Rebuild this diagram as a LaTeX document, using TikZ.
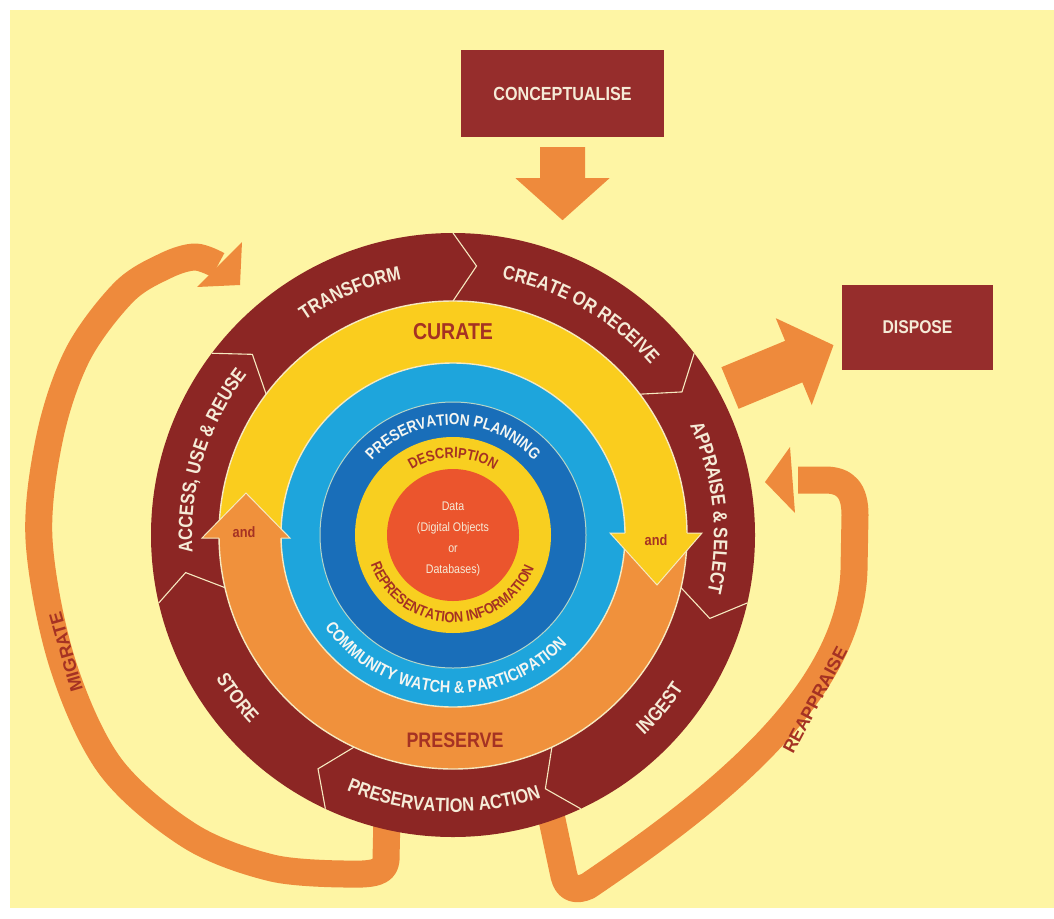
\documentclass[tikz,border=0pt]{standalone}
\usepackage{fontspec}
\usetikzlibrary{decorations.text}
\newfontfamily\labfont{Liberation Sans}[FakeStretch=0.85]
\newfontfamily\widefont{Liberation Sans}

\definecolor{bgyellow}{HTML}{FEF5A4}
\definecolor{maroon}{HTML}{8C2624}
\definecolor{boxred}{HTML}{962D2C}
\definecolor{arroworange}{HTML}{EE8A3C}
\definecolor{curateyellow}{HTML}{FACD1E}
\definecolor{preserveorange}{HTML}{F0913C}
\definecolor{lightblue}{HTML}{1EA5DC}
\definecolor{darkblue}{HTML}{196EB9}
\definecolor{descyellow}{HTML}{F8CF20}
\definecolor{datared}{HTML}{EB552D}
\definecolor{darktext}{HTML}{A53223}
\definecolor{creamtext}{HTML}{F5EBD7}
\definecolor{bluetext}{HTML}{F4F6F2}
\definecolor{rimline}{HTML}{F6E9C0}

\tikzset{
  rim/.style={draw=rimline, line width=1.4pt},
  band/.style={draw=arroworange, line width=27pt, line join=round},
  boxnode/.style={fill=boxred, text=creamtext, inner sep=0pt,
    font=\labfont\bfseries\fontsize{19}{19}\selectfont},
  bandlabel/.style={text=darktext, inner sep=0pt,
    font=\widefont\bfseries\fontsize{18}{18}\selectfont},
  ringtext/.style n args={3}{decorate, decoration={text along path, text align=center,
      text={|\labfont\bfseries\fontsize{#1}{#1}\selectfont\color{#2}|#3}}},
}

\begin{document}
\begin{tikzpicture}[x=1pt, y=1pt]
  % page and pale yellow field
  \fill[white] (0,0) rectangle (1054,-918);
  \fill[bgyellow] (10,-10) rectangle (1054,-908);
  \useasboundingbox (0,0) rectangle (1054,-918);

  % outside stages
  \node[boxnode, minimum width=203pt, minimum height=87pt] (concept) at (562.5,-93.5) {CONCEPTUALISE};
  \node[boxnode, minimum width=151pt, minimum height=85pt, font=\labfont\bfseries\fontsize{18.5}{18.5}\selectfont] (dispose) at (917.5,-327.5) {DISPOSE};

  % block arrow from Conceptualise into the cycle
  \coordinate (cTail) at ([yshift=-10pt]concept.south);
  \fill[arroworange, shift={(cTail)}, rotate=-90]
    (0,-22.5) -- (31,-22.5) -- (31,-47) -- (73,0) -- (31,47) -- (31,22.5) -- (0,22.5) -- cycle;

  % block arrow out to Dispose
  \coordinate (dTail) at (730,-388);
  \fill[arroworange, shift={(dTail)}, rotate=22.5]
    (0,-22.5) -- (69,-22.5) -- (69,-47) -- (112,0) -- (69,47) -- (69,22.5) -- (0,22.5) -- cycle;

  % Migrate loop
  \coordinate (mStart) at (387,-815);
  \coordinate (mEnd) at (218,-265);
  \draw[band] (mStart) -- (386,-860) .. controls (385,-872) and (375,-875) .. (345,-874)
    -- plot[smooth, tension=0.55] coordinates {(345,-874) (272,-868) (190,-836) (110,-766)
       (62,-662) (39,-539) (50,-436) (78,-354) (124,-292) (165,-266) (195,-257) (mEnd)};
  \fill[arroworange] (197,-287) -- (242,-242) -- (240,-285) -- cycle;
  \node[bandlabel, rotate=106] (migratelbl) at (66,-652) {MIGRATE};

  % Reappraise loop
  \coordinate (rStart) at (551,-815);
  \coordinate (rEnd) at (798,-480);
  \draw[band] (rStart) -- (564,-876) .. controls (567,-888) and (575,-892) .. (588,-886)
    .. controls (700,-810) and (850,-700) .. (854,-570) -- (855,-515)
    .. controls (855,-490) and (845,-480) .. (825,-480) -- (rEnd);
  \fill[arroworange] (790,-447) -- (765,-482) -- (795,-513) -- cycle;
  \node[bandlabel, rotate=62] (reappraiselbl) at (815,-700) {REAPPRAISE};

  % the lifecycle wheel
  \begin{scope}[shift={(453,-535)}]
    \fill[maroon] (0,0) circle[radius=302pt];
    \fill[curateyellow] (0:234pt) arc[start angle=0, end angle=180, radius=234pt]
      -- (180:172pt) arc[start angle=180, end angle=0, radius=172pt] -- cycle;
    \fill[preserveorange] (180:234pt) arc[start angle=180, end angle=360, radius=234pt]
      -- (0:172pt) arc[start angle=360, end angle=180, radius=172pt] -- cycle;
    \fill[lightblue] (0,0) circle[radius=172pt];
    \fill[darkblue] (0,0) circle[radius=133pt];
    \fill[descyellow] (0,0) circle[radius=98pt];
    \fill[datared] (0,0) circle[radius=66pt];
    \draw[rim] (0,0) circle[radius=234pt];
    \draw[rim] (0,0) circle[radius=172pt];
    \draw[draw=rimline!70!lightblue, line width=1pt] (0,0) circle[radius=133pt];

    % chevron separators of the outer stages
    \foreach \a in {90,37,-13,-65,-115,-167,143}
      \draw[rim, line width=1.1pt] (\a:302pt) -- ({\a-5}:270pt) -- (\a:234pt);

    % "and" arrow heads joining Curate and Preserve
    \fill[preserveorange] (-251,-3) -- (-207,42) -- (-163,-3) -- cycle;
    \draw[rim, line width=1pt] (-234,-3) -- (-251,-3) -- (-207,42) -- (-163,-3) -- (-172,-3);
    \fill[curateyellow] (157,2) -- (204,-50) -- (249,2) -- cycle;
    \draw[rim, line width=1pt] (172,2) -- (157,2) -- (204,-50) -- (249,2) -- (234,2);
    \node[text=darktext, font=\labfont\bfseries\fontsize{15}{15}\selectfont] (andleft) at (-209,3) {and};
    \node[text=darktext, font=\labfont\bfseries\fontsize{15}{15}\selectfont] (andright) at (203,-5) {and};

    % outer stage labels
    \path[ringtext={19.5}{creamtext}{CREATE OR RECEIVE}] (110:261pt) arc[start angle=110, end angle=10, radius=261pt];
    \path[ringtext={19.5}{creamtext}{TRANSFORM}] (163:261pt) arc[start angle=163, end angle=63, radius=261pt];
    \path[ringtext={19.5}{creamtext}{ACCESS, USE {\&} REUSE}] (213:261pt) arc[start angle=213, end angle=113, radius=261pt];
    \path[ringtext={19.5}{creamtext}{APPRAISE {\&} SELECT}] (56:261pt) arc[start angle=56, end angle=-44, radius=261pt];
    \path[ringtext={19.5}{creamtext}{INGEST}] (-90:277pt) arc[start angle=-90, end angle=10, radius=277pt];
    \path[ringtext={19.5}{creamtext}{PRESERVATION ACTION}] (-142:277pt) arc[start angle=-142, end angle=-42, radius=277pt];
    \path[ringtext={19.5}{creamtext}{STORE}] (-193:277pt) arc[start angle=-193, end angle=-93, radius=277pt];

    % sequential actions
    \node[text=darktext, font=\labfont\bfseries\fontsize{23}{23}\selectfont] (curate) at (0,203) {CURATE};
    \node[text=darktext, font=\labfont\bfseries\fontsize{21}{21}\selectfont] (preserve) at (2,-205) {PRESERVE};

    % full lifecycle actions
    \path[ringtext={16}{bluetext}{PRESERVATION PLANNING}] (170:110pt) arc[start angle=170, end angle=10, radius=110pt];
    \path[ringtext={17}{bluetext}{COMMUNITY WATCH {\&} PARTICIPATION}] (-194:158pt) arc[start angle=-194, end angle=6, radius=158pt];
    \path[ringtext={15}{darktext}{DESCRIPTION}] (160:77pt) arc[start angle=160, end angle=20, radius=77pt];
    \path[ringtext={15}{darktext}{REPRESENTATION INFORMATION}] (-191:87.5pt) arc[start angle=-191, end angle=9, radius=87.5pt];

    % core
    \node[text=creamtext, align=center, font=\labfont\fontsize{12.5}{21}\selectfont] (data) at (0,-4)
      {Data\\(Digital Objects\\or\\Databases)};
  \end{scope}
\end{tikzpicture}
\end{document}
